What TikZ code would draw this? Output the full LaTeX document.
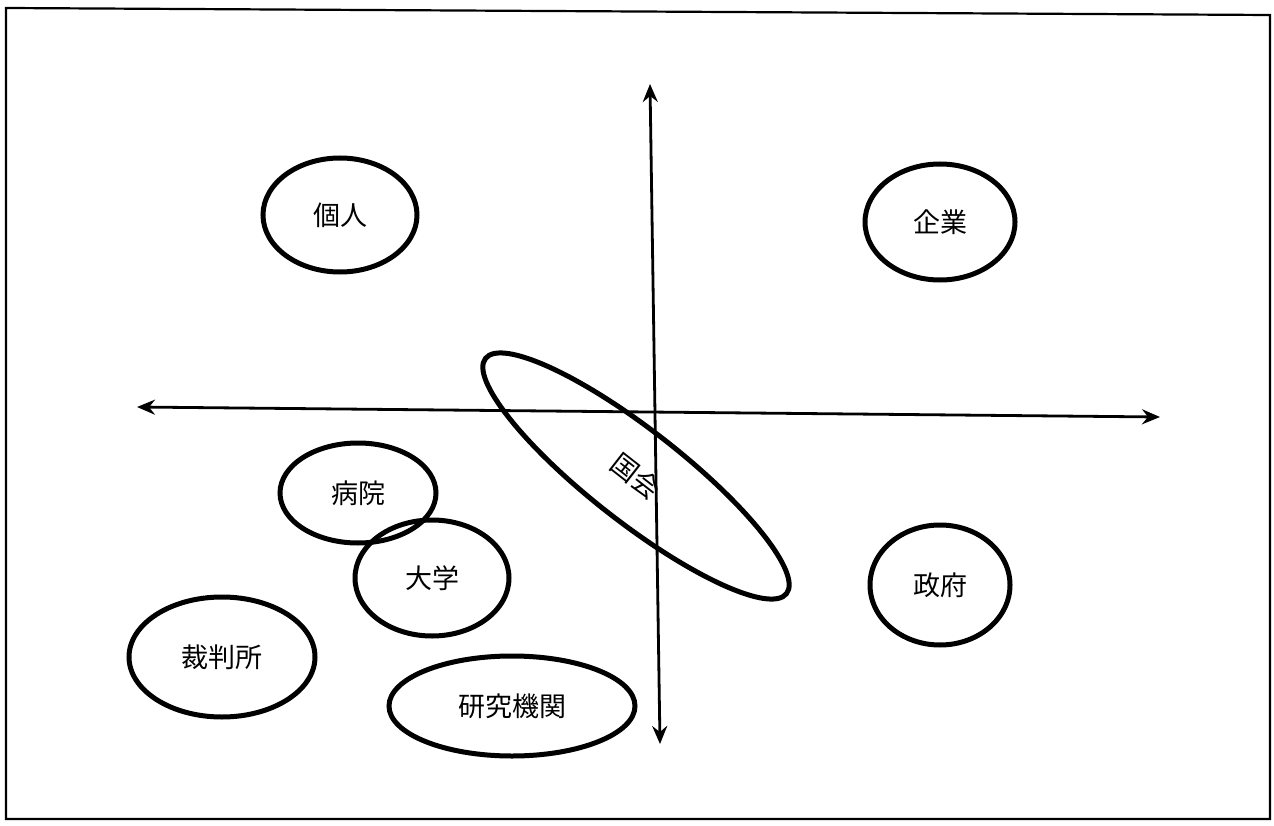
\documentclass[tikz,border=0pt]{standalone}
\usepackage{fontspec}
\newfontfamily\cjk{Noto Sans CJK JP}
\usetikzlibrary{shapes.geometric,arrows.meta}
\begin{document}
\begin{tikzpicture}[x=1pt,y=-1pt,
  blob/.style={draw,ellipse,line width=5pt,inner sep=0pt,font=\cjk\fontsize{27}{29}\selectfont},
  axis/.style={line width=2.8pt,{Stealth[length=18pt,width=15pt,inset=6pt]}-{Stealth[length=18pt,width=15pt,inset=6pt]}},
  frame/.style={line width=2.2pt}]
\useasboundingbox (0,0) rectangle (1274,826);
\draw[frame] (6,8) -- (1270,15) -- (1270,819) -- (6,819) -- cycle;
% axes
\coordinate (hl) at (137,407);
\coordinate (hr) at (1160,417);
\coordinate (vt) at (650,84);
\coordinate (vb) at (660,744);
\draw[axis] (hl) -- (hr);
\draw[axis] (vt) -- (vb);
% ellipses
\node[blob,minimum width=154pt,minimum height=114pt] (kojin) at (340,215) {個人};
\node[blob,minimum width=150pt,minimum height=116pt] (kigyo) at (940,222) {企業};
\node[blob,minimum width=156pt,minimum height=100pt] (byoin) at (358,493) {病院};
\node[blob,minimum width=154pt,minimum height=116pt] (daigaku) at (432,578) {大学};
\node[blob,minimum width=186pt,minimum height=120pt] (saiban) at (222,657) {裁判所};
\node[blob,minimum width=246pt,minimum height=100pt] (kenkyu) at (512,706) {研究機関};
\node[blob,minimum width=140pt,minimum height=120pt] (seifu) at (940,585) {政府};
\node[blob,minimum width=382pt,minimum height=92pt,rotate=-38] (kokkai) at (636,476) {国会};
\end{tikzpicture}
\end{document}
